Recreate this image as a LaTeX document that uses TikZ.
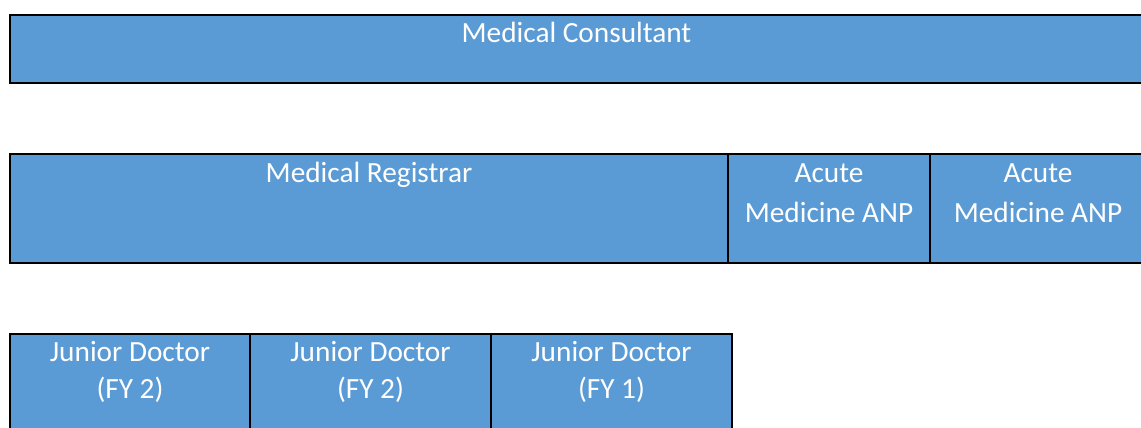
\documentclass[tikz,border=0pt]{standalone}
\usepackage{fontspec}
\setmainfont{Carlito}
\definecolor{cellblue}{HTML}{5B9BD5}
\tikzset{
  cell/.style={draw=black, line width=2pt, fill=cellblue},
  celltext/.style={text=white, anchor=base, inner sep=0pt, font=\fontsize{29.3}{34}\selectfont}
}
\begin{document}
\begin{tikzpicture}[x=1pt,y=-1pt]
\useasboundingbox (0,0) rectangle (1141,428);
\clip (0,0) rectangle (1141,428);
% row 1
\draw[cell] (10,15) rectangle (1150,83);
\node[celltext] (cons) at (576.5,43) {Medical Consultant};
% row 2
\draw[cell] (10,154) rectangle (728,263);
\draw[cell] (728,154) rectangle (930,263);
\draw[cell] (930,154) rectangle (1150,263);
\node[celltext] (reg) at (369,182.3) {Medical Registrar};
\node[celltext] (anpa1) at (829,182) {Acute};
\node[celltext] (anpa2) at (829,222.7) {Medicine ANP};
\node[celltext] (anpb1) at (1038,182) {Acute};
\node[celltext] (anpb2) at (1038,222.7) {Medicine ANP};
% row 3
\draw[cell] (10,334) rectangle (250,445);
\draw[cell] (250,334) rectangle (491,445);
\draw[cell] (491,334) rectangle (732,445);
\node[celltext] (jda1) at (130,361.7) {Junior Doctor};
\node[celltext] (jda2) at (130,398.3) {(FY 2)};
\node[celltext] (jdb1) at (370.5,361.7) {Junior Doctor};
\node[celltext] (jdb2) at (370.5,398.3) {(FY 2)};
\node[celltext] (jdc1) at (611.5,361.7) {Junior Doctor};
\node[celltext] (jdc2) at (611.5,398.3) {(FY 1)};
\end{tikzpicture}
\end{document}
